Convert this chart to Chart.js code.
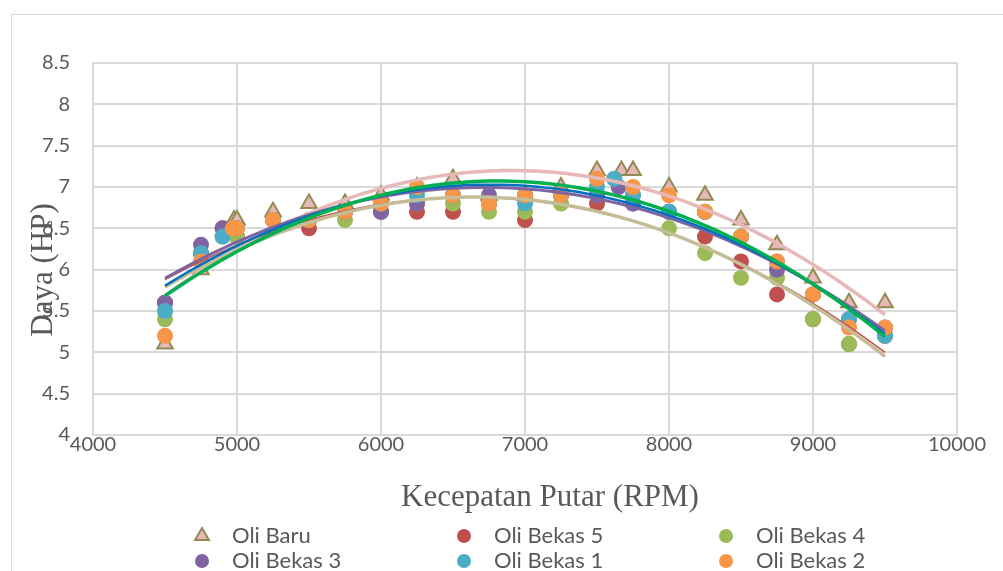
<!DOCTYPE html>
<html><head><meta charset="utf-8">
<script src="https://cdn.jsdelivr.net/npm/chart.js@4/dist/chart.umd.min.js"></script>
<style>
html,body{margin:0;padding:0;background:#fff;overflow:hidden}
#wrap{position:relative;width:1003px;height:571px}
#frame{position:absolute;left:11px;top:14px;width:1100px;height:700px;border:1px solid #d9d9d9;box-sizing:border-box}
canvas{position:absolute;left:0;top:0}
</style></head><body>
<div id="wrap"><div id="frame"></div><canvas id="c" width="1003" height="571"></canvas></div>
<script>
const seriesNames = ['Oli Baru','Oli Bekas 5','Oli Bekas 4','Oli Bekas 3','Oli Bekas 1','Oli Bekas 2'];
const xTitle = 'Kecepatan Putar (RPM)';
const yTitle = 'Daya (HP)';
const xTickValues = [4000,5000,6000,7000,8000,9000,10000];
const xTickLabels = ['4000','5000','6000','7000','8000','9000','10000'];
const yTickValues = [4,4.5,5,5.5,6,6.5,7,7.5,8,8.5];
const yTickLabels = ['4','4.5','5','5.5','6','6.5','7','7.5','8','8.5'];

const rpmOliBaru  = [4500,4750,4980,5000,5250,5500,5750,6000,6250,6500,6750,7000,7250,7500,7670,7750,8000,8250,8500,8750,9000,9250,9500];
const dayaOliBaru = [5.1,6.0,6.6,6.6,6.7,6.8,6.8,6.9,7.0,7.1,6.9,6.9,7.0,7.2,7.2,7.2,7.0,6.9,6.6,6.3,5.9,5.6,5.6];
const rpmBekas5  = [4500,4750,4900,5000,5250,5500,5750,6000,6250,6500,6750,7000,7250,7500,7750,8000,8250,8500,8750,9000,9250,9500];
const dayaBekas5 = [5.6,6.2,6.5,6.4,6.6,6.5,6.7,6.7,6.7,6.7,6.8,6.6,6.9,6.8,6.8,6.7,6.4,6.1,5.7,5.4,5.1,5.2];
const rpmBekas4  = [4500,4750,4900,5000,5250,5500,5750,6000,6250,6500,6750,7000,7250,7500,7750,8000,8250,8500,8750,9000,9250,9500];
const dayaBekas4 = [5.4,6.1,6.4,6.4,6.6,6.6,6.6,6.7,6.8,6.8,6.7,6.7,6.8,6.9,6.9,6.5,6.2,5.9,5.9,5.4,5.1,5.2];
const rpmBekas3  = [4500,4750,4900,5000,5250,5500,5750,6000,6250,6500,6750,7000,7250,7500,7650,7750,8000,8250,8500,8750,9000,9250,9500];
const dayaBekas3 = [5.6,6.3,6.5,6.5,6.6,6.6,6.7,6.7,6.8,6.9,6.9,6.9,6.9,6.9,7.0,6.8,6.7,6.7,6.4,6.0,5.7,5.4,5.3];
const rpmBekas1  = [4500,4750,4900,5000,5250,5500,5750,6000,6250,6500,6750,7000,7250,7500,7620,7750,8000,8250,8500,8750,9000,9250,9500];
const dayaBekas1 = [5.5,6.2,6.4,6.5,6.6,6.6,6.7,6.8,6.9,6.9,6.8,6.8,6.9,7.0,7.1,6.9,6.7,6.7,6.4,6.1,5.7,5.4,5.2];
const rpmBekas2  = [4500,4750,4970,5000,5250,5500,5750,6000,6250,6500,6750,7000,7250,7500,7750,8000,8250,8500,8750,9000,9250,9500];
const dayaBekas2 = [5.2,6.1,6.5,6.5,6.6,6.6,6.7,6.8,7.0,6.9,6.8,6.9,6.9,7.1,7.0,6.9,6.7,6.4,6.1,5.7,5.3,5.3];

const markerFill   = ['#e6b9b8','#c0504d','#9bbb59','#8064a2','#4bacc6','#f79646'];
const markerBorder = ['#948a54','#c0504d','#9bbb59','#8064a2','#4bacc6','#f79646'];
const markerStyle  = ['triangle','circle','circle','circle','circle','circle'];
const trendColors  = ['#e6b9b8','#c0504d','#c4bd97','#8064a2','#0070c0','#00b050'];
const trendWidths  = [3.5,1.5,3.5,3,2.5,3.5];

const rpmSets  = [rpmOliBaru,rpmBekas5,rpmBekas4,rpmBekas3,rpmBekas1,rpmBekas2];
const dayaSets = [dayaOliBaru,dayaBekas5,dayaBekas4,dayaBekas3,dayaBekas1,dayaBekas2];

// least-squares polynomial (order 2) trendline, like the spreadsheet's
function polyFit(xs, ys){
  const t = xs.map(v => (v-7000)/1000);
  const S = [0,0,0,0,0], T=[0,0,0];
  for(let i=0;i<t.length;i++){
    let p=1; for(let k=0;k<5;k++){ S[k]+=p; p*=t[i]; }
    p=1; for(let k=0;k<3;k++){ T[k]+=ys[i]*p; p*=t[i]; }
  }
  const A=[[S[0],S[1],S[2],T[0]],[S[1],S[2],S[3],T[1]],[S[2],S[3],S[4],T[2]]];
  for(let c=0;c<3;c++){
    for(let r=c+1;r<3;r++){ const f=A[r][c]/A[c][c]; for(let k=c;k<4;k++) A[r][k]-=f*A[c][k]; }
  }
  const cf=[0,0,0];
  for(let r=2;r>=0;r--){ let s=A[r][3]; for(let k=r+1;k<3;k++) s-=A[r][k]*cf[k]; cf[r]=s/A[r][r]; }
  return x => { const u=(x-7000)/1000; return cf[0]+cf[1]*u+cf[2]*u*u; };
}

const datasets = [];
seriesNames.forEach((name,i)=>{
  const xs=rpmSets[i], ys=dayaSets[i];
  const f = polyFit(xs, ys);
  const lo=Math.min(...xs), hi=Math.max(...xs);
  const pts=[]; for(let k=0;k<=100;k++){ const x=lo+(hi-lo)*k/100; pts.push({x:x,y:f(x)}); }
  datasets.push({type:'scatter', label:name+' trend', data:pts, showLine:true, pointRadius:0,
    borderColor:trendColors[i], borderWidth:trendWidths[i], tension:0, order:6-i, fill:false});
});
seriesNames.forEach((name,i)=>{
  datasets.push({type:'scatter', label:name, data:rpmSets[i].map((x,k)=>({x:x,y:dayaSets[i][k]})),
    pointStyle:markerStyle[i], pointRadius: i===0?9:8, pointBackgroundColor:markerFill[i],
    pointBorderColor:markerBorder[i], pointBorderWidth: i===0?2:0, order:16-i});
});

const annot = {
  id:'annot',
  afterDraw(chart){
    const ctx=chart.ctx, a=chart.chartArea;
    ctx.save();
    ctx.fillStyle='#595959';
    ctx.font='31px "Liberation Serif"';
    ctx.textAlign='center'; ctx.textBaseline='middle';
    ctx.fillText(xTitle, (a.left+a.right)/2+25, a.bottom+63);
    ctx.save();
    ctx.translate(a.left-49, (a.top+a.bottom)/2+21);
    ctx.rotate(-Math.PI/2);
    ctx.fillText(yTitle,0,0);
    ctx.restore();
    ctx.font='22px Lato';
    ctx.textAlign='left';
    for(let i=0;i<seriesNames.length;i++){
      const col=i%3,row=Math.floor(i/3);
      const mx=a.left+109+col*262, ty=a.bottom+101+row*25;
      ctx.fillStyle=markerFill[i]; ctx.strokeStyle=markerBorder[i]; ctx.lineWidth=i===0?2:0;
      Chart.helpers.drawPoint(ctx,{pointStyle:markerStyle[i],radius:i===0?8:7,rotation:0,borderWidth:i===0?2:0},mx,ty);
      ctx.fillStyle='#595959';
      ctx.fillText(seriesNames[i], mx+30, ty);
    }
    ctx.restore();
  }
};

new Chart(document.getElementById('c'),{
  data:{datasets},
  options:{
    responsive:false, animation:false, devicePixelRatio:1,
    layout:{padding:{top:63,right:46,left:0,bottom:0}},
    plugins:{legend:{display:false},tooltip:{enabled:false}},
    scales:{
      x:{type:'linear',min:4000,max:10000,
        afterBuildTicks:s=>{s.ticks=xTickValues.map(v=>({value:v}));},
        afterFit:s=>{s.height=136;},
        ticks:{color:'#595959',font:{family:'Lato',size:20},padding:-2,
          callback:(v)=>xTickLabels[xTickValues.indexOf(v)]},
        grid:{color:'#d9d9d9',lineWidth:2,drawTicks:false},
        border:{color:'#d9d9d9',width:2}},
      y:{type:'linear',min:4,max:8.5,
        afterBuildTicks:s=>{s.ticks=yTickValues.map(v=>({value:v}));},
        afterFit:s=>{s.width=93;},
        ticks:{color:'#595959',font:{family:'Lato',size:20},padding:23,
          callback:(v)=>yTickLabels[yTickValues.indexOf(v)]},
        grid:{color:'#d9d9d9',lineWidth:2,drawTicks:false},
        border:{color:'#d9d9d9',width:2}}
    }
  },
  plugins:[annot]
});
</script>
</body></html>
